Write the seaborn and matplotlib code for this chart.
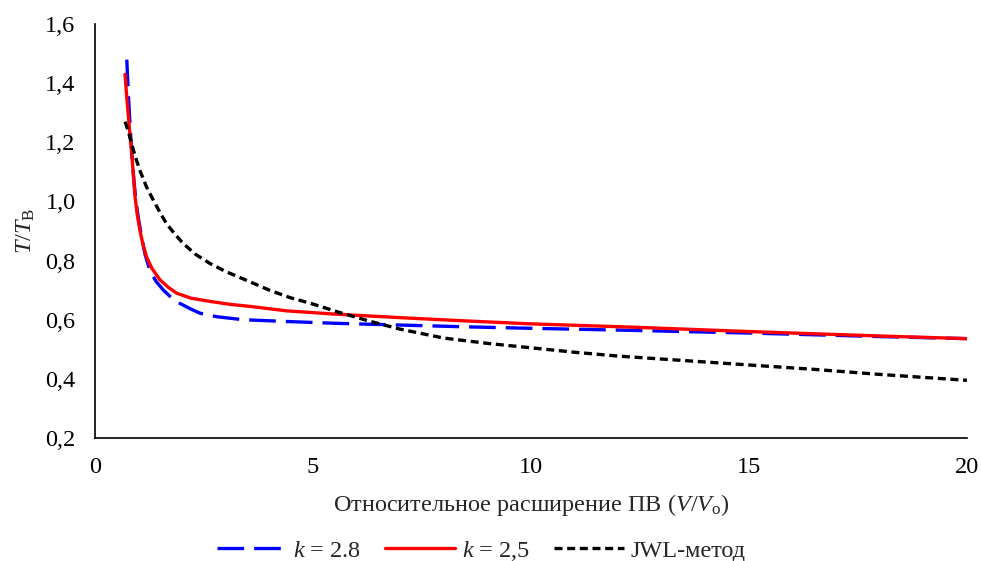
import matplotlib
matplotlib.use("Agg")
import matplotlib.pyplot as plt
import seaborn as sns

# k = 2.8 (blue dashed)
x_k28 = [0.73, 0.76, 0.80, 0.85, 0.90, 0.95, 1.0, 1.07, 1.15, 1.26, 1.4, 1.57, 1.75, 1.95, 2.2,
         2.41, 2.8, 3.4, 4.4, 5.5, 7.0, 8.5, 10.0, 12.0, 15.0, 18.0, 20.0]
y_k28 = [1.48, 1.38, 1.27, 1.15, 1.06, 0.99, 0.94, 0.88, 0.82, 0.767, 0.73, 0.70, 0.675, 0.655, 0.636,
         0.622, 0.61, 0.60, 0.594, 0.588, 0.582, 0.576, 0.571, 0.565, 0.555, 0.543, 0.536]

# k = 2,5 (red solid)
x_k25 = [0.69, 0.72, 0.76, 0.80, 0.84, 0.88, 0.92, 0.97, 1.03, 1.1, 1.18, 1.3, 1.49, 1.68, 1.87,
         2.2, 2.64, 3.1, 3.56, 4.4, 5.5, 7.0, 8.5, 10.0, 12.3, 15.0, 18.0, 20.0]
y_k25 = [1.43, 1.37, 1.30, 1.23, 1.17, 1.09, 1.015, 0.955, 0.903, 0.855, 0.814, 0.775, 0.735, 0.71, 0.69,
         0.673, 0.662, 0.652, 0.645, 0.63, 0.619, 0.607, 0.596, 0.586, 0.575, 0.56, 0.545, 0.536]

# JWL method (black short dashes)
x_jwl = [0.69, 0.76, 0.85, 0.94, 1.03, 1.18, 1.34, 1.49, 1.64, 1.83, 2.03, 2.3, 2.64, 3.0, 3.48,
         4.0, 4.47, 5.0, 5.6, 6.3, 7.0, 8.0, 9.0, 10.0, 11.0, 12.0, 13.5, 15.0, 16.5, 18.0, 20.0]
y_jwl = [1.27, 1.24, 1.19, 1.145, 1.105, 1.05, 1.004, 0.963, 0.925, 0.89, 0.857, 0.822, 0.79, 0.763, 0.733,
         0.70, 0.675, 0.653, 0.625, 0.595, 0.568, 0.538, 0.52, 0.505, 0.49, 0.477, 0.462, 0.447, 0.432, 0.415, 0.395]

x_ticks = [0, 5, 10, 15, 20]
y_ticks = [0.2, 0.4, 0.6, 0.8, 1.0, 1.2, 1.4, 1.6]

sns.set_style("white")
plt.rcParams['font.family'] = ['Liberation Serif', 'DejaVu Serif']
plt.rcParams['mathtext.fontset'] = 'custom'
plt.rcParams['mathtext.rm'] = 'Liberation Serif'
plt.rcParams['mathtext.it'] = 'Liberation Serif:italic'

fig = plt.figure(figsize=(9.81, 5.61), dpi=100)
ax = fig.add_axes([0.0968, 0.2193, 0.889, 0.7377])

sns.lineplot(x=x_k28, y=y_k28, ax=ax, color='#0000ff', linewidth=2.4, sort=False,
             linestyle=(0, (8, 3)), label=r'$k$ = 2.8')
sns.lineplot(x=x_k25, y=y_k25, ax=ax, color='#ff0000', linewidth=2.4, sort=False,
             label=r'$k$ = 2,5')
sns.lineplot(x=x_jwl, y=y_jwl, ax=ax, color='black', linewidth=2.4, sort=False,
             linestyle=(0, (2.4, 1.4)), label='JWL-метод')

ax.set_xlim(0, 20)
ax.set_ylim(0.2, 1.6)
ax.set_xticks(x_ticks)
ax.set_yticks(y_ticks)
ax.set_xticklabels([str(t) for t in x_ticks])
ax.set_yticklabels([f"{t:.1f}".replace('.', ',') for t in y_ticks])

for s in ['top', 'right']:
    ax.spines[s].set_visible(False)
for s in ['left', 'bottom']:
    ax.spines[s].set_color('black')
    ax.spines[s].set_linewidth(1.2)
ax.tick_params(axis='both', direction='in', length=5, width=1.2, colors='black',
               labelsize=17.5, pad=14)

ax.set_xlabel(r'Относительное расширение ПВ ($V$/$V_{\rm o}$)', fontsize=17.5, labelpad=10)
ax.set_ylabel(r'$T$/$T_{\rm В}$', fontsize=17.5, labelpad=6)

ax.legend(loc='center', bbox_to_anchor=(0.443, -0.272), ncol=3, frameon=False,
          fontsize=17.5, handlelength=2.85, columnspacing=1.0, handletextpad=0.3)

fig.savefig('out.png', dpi=100)
